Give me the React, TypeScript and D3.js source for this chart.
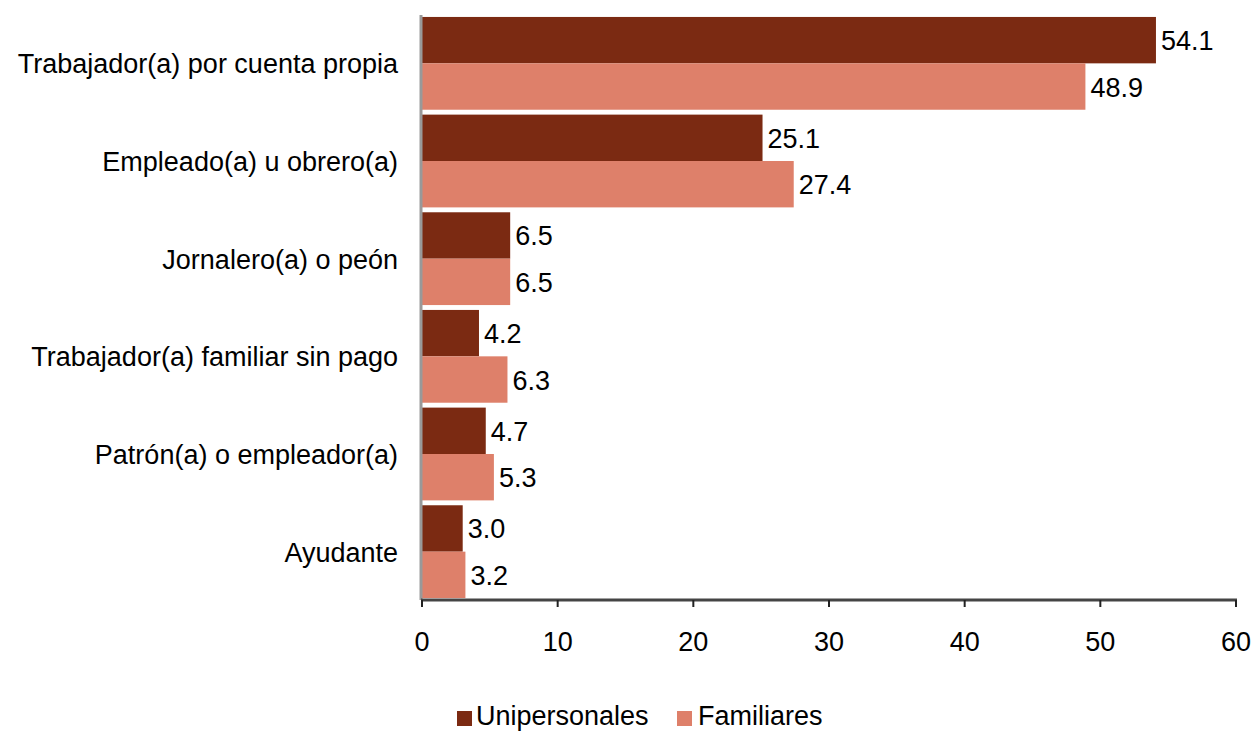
import React from "react";
import * as d3 from "d3";

const categories = [
  "Trabajador(a) por cuenta propia",
  "Empleado(a) u obrero(a)",
  "Jornalero(a) o peón",
  "Trabajador(a) familiar sin pago",
  "Patrón(a) o empleador(a)",
  "Ayudante",
];
const unipersonales = [54.1, 25.1, 6.5, 4.2, 4.7, 3.0];
const familiares = [48.9, 27.4, 6.5, 6.3, 5.3, 3.2];
const seriesNames = ["Unipersonales", "Familiares"];
const xTicks = [0, 10, 20, 30, 40, 50, 60];

const colors = ["#7B2A12", "#DE806A"];
const font = "'Liberation Sans', Arial, sans-serif";
const fs = 27;

export default function App() {
  const W = 1254, H = 731;
  const x = d3.scaleLinear().domain([0, 60]).range([422, 1236]);
  const y = d3.scaleBand<string>().domain(categories).range([15, 600]).paddingInner(0.05).paddingOuter(0.02);
  const sub = d3.scaleBand<string>().domain(seriesNames).range([0, y.bandwidth()]).padding(0);
  const series = [unipersonales, familiares];
  const axisY = 600;
  return (
    <svg width={W} height={H} style={{ position: "absolute", left: 0, top: 0, background: "#fff" }} fontFamily={font}>
      {categories.map((c, i) => (
        <g key={c}>
          {series.map((s, k) => (
            <g key={k}>
              <rect x={x(0)} y={(y(c) as number) + (sub(seriesNames[k]) as number)} width={x(s[i]) - x(0)} height={sub.bandwidth()} fill={colors[k]} />
              <text x={x(s[i]) + 5} y={(y(c) as number) + (sub(seriesNames[k]) as number) + sub.bandwidth() / 2 + 10} fontSize={fs} fill="#000">
                {s[i].toFixed(1)}
              </text>
            </g>
          ))}
          <text x={398} y={(y(c) as number) + y.bandwidth() / 2 + 10} textAnchor="end" fontSize={fs} fill="#000">
            {c}
          </text>
        </g>
      ))}
      <line x1={421} x2={421} y1={15} y2={axisY} stroke="#999" strokeWidth={3} />
      <line x1={421} x2={1237} y1={axisY} y2={axisY} stroke="#444" strokeWidth={3} />
      {xTicks.map((t) => (
        <g key={t}>
          <line x1={x(t)} x2={x(t)} y1={axisY} y2={axisY + 7} stroke="#222" strokeWidth={2} />
          <text x={x(t)} y={651} textAnchor="middle" fontSize={fs} fill="#000">{t}</text>
        </g>
      ))}
      <g>
        <rect x={457} y={711} width={15} height={15} fill={colors[0]} />
        <text x={476} y={725} fontSize={fs} fill="#000">{seriesNames[0]}</text>
        <rect x={677} y={711} width={15} height={15} fill={colors[1]} />
        <text x={698} y={725} fontSize={fs} fill="#000">{seriesNames[1]}</text>
      </g>
    </svg>
  );
}
